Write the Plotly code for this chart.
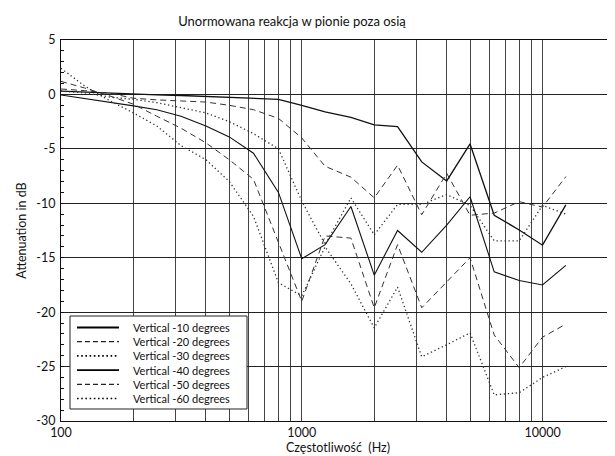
import plotly.graph_objects as go

# ---------------- data ----------------
freqs = [100, 125, 160, 200, 250, 315, 400, 500, 630, 800, 1000, 1250, 1600,
         2000, 2500, 3150, 4000, 5000, 6300, 8000, 10000, 12500]

v_m10 = [0.3, 0.2, 0.1, 0.0, -0.05, -0.1, -0.2, -0.25, -0.35, -0.45, -1.0, -1.6, -2.1,
         -2.8, -2.95, -6.2, -7.95, -4.55, -11.1, -12.45, -13.85, -10.15]
v_m20 = [0.5, 0.35, 0.1, -0.35, -0.5, -0.6, -0.7, -1.0, -1.4, -2.2, -4.0, -6.6, -7.6,
         -9.5, -6.5, -11.05, -7.25, -11.1, -10.9, -9.85, -10.35, -7.55]
v_m30 = [0.3, 0.15, -0.25, -0.45, -0.75, -1.2, -1.7, -2.5, -3.6, -5.0, -9.8, -13.8, -9.5,
         -12.9, -10.1, -10.1, -9.2, -10.2, -13.45, -13.45, -10.2, -11.0]
v_m40 = [-0.05, -0.35, -0.7, -1.05, -1.4, -2.0, -2.9, -3.9, -5.4, -9.0, -15.1, -13.8, -10.3,
         -16.6, -12.5, -14.5, -12.0, -9.4, -16.3, -17.1, -17.5, -15.7]
v_m50 = [1.2, 0.6, -0.15, -0.9, -2.0, -3.1, -4.45, -6.0, -7.8, -13.5, -19.0, -13.0, -13.2,
         -19.6, -13.8, -19.6, -17.2, -15.0, -22.1, -25.1, -22.3, -21.1]
v_m60 = [2.4, 0.8, -0.6, -1.7, -2.9, -4.7, -6.0, -8.0, -11.2, -17.3, -18.5, -14.0, -17.4,
         -21.45, -17.7, -24.1, -23.0, -21.9, -27.6, -27.4, -26.0, -25.0]

series_names = ["Vertical -10 degrees", "Vertical -20 degrees", "Vertical -30 degrees",
                "Vertical -40 degrees", "Vertical -50 degrees", "Vertical -60 degrees"]
series_values = [v_m10, v_m20, v_m30, v_m40, v_m50, v_m60]

x_grid = [100, 200, 300, 400, 500, 600, 700, 800, 900,
          1000, 2000, 3000, 4000, 5000, 6000, 7000, 8000, 9000, 10000]
x_labels = ["100", "", "", "", "", "", "", "", "",
            "1000", "", "", "", "", "", "", "", "", "10000"]
y_ticks = [-30, -25, -20, -15, -10, -5, 0, 5]
y_labels = ["-30", "-25", "-20", "-15", "-10", "-5", "0", "5"]

title_text = "Unormowana reakcja w pionie poza osią"
x_title = "Częstotliwość  (Hz)"
y_title = "Attenuation in dB"

# ---------------- styles ----------------
FONT = "Lato, 'Open Sans', sans-serif"
styles = [
    dict(color="#111111", width=1.3, dash="solid"),
    dict(color="#333333", width=1.0, dash="6px,4px"),
    dict(color="#333333", width=1.3, dash="1.3px,2.7px"),
    dict(color="#111111", width=1.1, dash="solid"),
    dict(color="#333333", width=1.0, dash="6px,4px"),
    dict(color="#333333", width=1.3, dash="1.3px,2.7px"),
]
legend_styles = [
    dict(color="#000000", width=2.2, dash="solid"),
    dict(color="#222222", width=1.2, dash="5px,3px"),
    dict(color="#000000", width=1.6, dash="1.6px,2.6px"),
    dict(color="#000000", width=1.8, dash="solid"),
    dict(color="#222222", width=1.2, dash="5px,3px"),
    dict(color="#000000", width=1.6, dash="1.6px,2.6px"),
]

W, H = 615, 456
ML, MR, MT, MB = 53, 8, 32, 43
PW, PH = W - ML - MR, H - MT - MB


def px(xp):
    return (xp - ML) / PW


def py(yp):
    return (H - MB - yp) / PH


fig = go.Figure()
for name, vals, st in zip(series_names, series_values, styles):
    fig.add_trace(go.Scatter(x=freqs, y=vals, mode="lines", name=name,
                             line=st, showlegend=False))

# legend box (drawn manually for exact spacing)
shapes = [dict(type="rect", xref="paper", yref="paper",
               x0=px(62), x1=px(239), y0=py(401), y1=py(308),
               line=dict(color="#222222", width=1), fillcolor="white", layer="above")]
annotations = []
row_y = [319.5, 333.7, 347.9, 362.1, 376.3, 390.5]
for name, st, ry in zip(series_names, legend_styles, row_y):
    shapes.append(dict(type="line", xref="paper", yref="paper",
                       x0=px(69), x1=px(111), y0=py(ry), y1=py(ry),
                       line=st, layer="above"))
    annotations.append(dict(xref="paper", yref="paper", x=px(123), y=py(ry),
                            xanchor="left", yanchor="middle", showarrow=False,
                            text=name, font=dict(family=FONT, size=11, color="#111111")))

fig.update_layout(
    width=W, height=H,
    margin=dict(l=ML, r=MR, t=MT, b=MB, pad=0),
    paper_bgcolor="white", plot_bgcolor="white",
    font=dict(family=FONT, size=12, color="#111111"),
    title=dict(text=title_text, x=284 / W, xanchor="center", xref="container",
               y=1 - 13 / H, yanchor="middle", yref="container",
               font=dict(family=FONT, size=13, color="#111111")),
    shapes=shapes, annotations=annotations,
    xaxis=dict(type="log", range=[2, 4.30103], tickvals=x_grid, ticktext=x_labels,
               ticks="", showgrid=True, gridcolor="#444444", gridwidth=1.3,
               showline=True, mirror=True, linecolor="#111111", linewidth=1.2,
               zeroline=False, tickfont=dict(size=12.5),
               title=dict(text=x_title, standoff=4, font=dict(size=12.5))),
    yaxis=dict(range=[-30, 5], tickvals=y_ticks, ticktext=y_labels,
               ticks="inside", ticklen=3, tickcolor="#111111",
               showgrid=True, gridcolor="#222222", gridwidth=1.1,
               showline=True, mirror=True, linecolor="#111111", linewidth=1.2,
               zeroline=False, tickfont=dict(size=12.5), ticklabelstandoff=2,
               minor=dict(dtick=1, ticks="inside", ticklen=3, tickcolor="#111111",
                          showgrid=False),
               title=dict(text=y_title, standoff=6, font=dict(size=12.5))),
)

fig.write_html("out.html")
